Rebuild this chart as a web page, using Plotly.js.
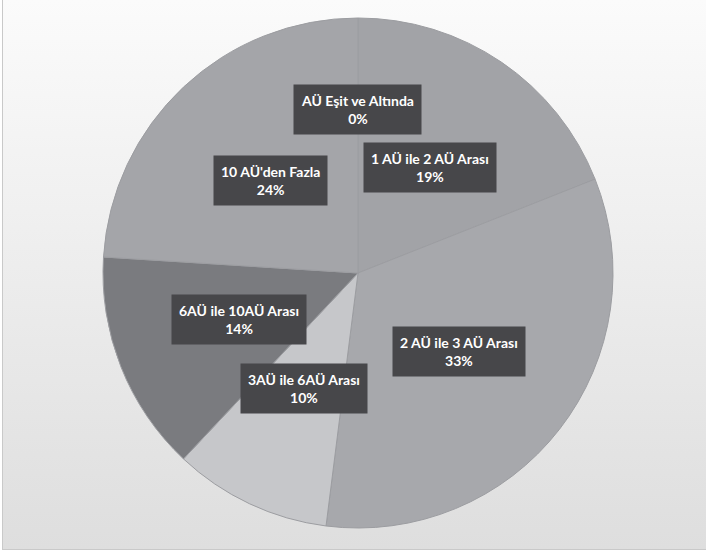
<!DOCTYPE html>
<html>
<head>
<meta charset="utf-8">
<script src="https://cdn.plot.ly/plotly-3.0.1.min.js"></script>
<style>
  html, body { margin: 0; padding: 0; background: #ffffff; }
  #bg {
    position: absolute; left: 2px; top: 0; width: 704px; height: 549px;
    border-left: 1px solid #c9c9c9; border-bottom: 1px solid #c9c9c9;
    background: linear-gradient(to bottom, #fbfbfb 0%, #eeeeee 45%, #dedede 100%);
  }
  #chart { position: absolute; left: 0; top: 0; width: 706px; height: 555px; }
</style>
</head>
<body>
<div id="bg"></div>
<div id="chart"></div>
<script>
// Data
const categories = [
  "AÜ Eşit ve Altında",
  "1 AÜ ile 2 AÜ Arası",
  "2 AÜ ile 3 AÜ Arası",
  "3AÜ ile 6AÜ Arası",
  "6AÜ ile 10AÜ Arası",
  "10 AÜ'den Fazla"
];
const percents = [0, 19, 33, 10, 14, 24];

// Styles
const sliceColors = ["#a2a3a7", "#a2a3a7", "#a7a8ac", "#c6c7ca", "#7a7b7f", "#a4a5a9"];
const labelRadius = [0.64, 0.5, 0.5, 0.5, 0.5, 0.5];

const W = 706, H = 555;
const cx = 358, cy = 273, R = 255;
const domX = [(cx - R) / W, (cx + R) / W];
const domY = [(H - cy - R) / H, (H - cy + R) / H];

const trace = {
  type: "pie",
  labels: categories,
  values: percents,
  sort: false,
  direction: "clockwise",
  rotation: 0,
  textinfo: "none",
  hoverinfo: "label+percent",
  marker: { colors: sliceColors, line: { color: "#9c9da1", width: 1 } },
  domain: { x: domX, y: domY },
  showlegend: false
};

// Label annotations placed at each slice's mid-angle
const total = percents.reduce((a, b) => a + b, 0);
let cum = 0;
const annotations = categories.map((c, i) => {
  const mid = (cum + percents[i] / 2) / total * 2 * Math.PI;
  cum += percents[i];
  const r = R * labelRadius[i];
  const px = cx + r * Math.sin(mid);
  const py = cy - r * Math.cos(mid);
  return {
    xref: "paper", yref: "paper",
    x: px / W, y: 1 - py / H,
    xanchor: "center", yanchor: "middle",
    showarrow: false,
    text: "<b>" + c + "</b><br><b>" + percents[i] + "%</b>",
    font: { family: "Lato, 'Open Sans', sans-serif", size: 14, color: "#ffffff" },
    bgcolor: "#47474a",
    borderpad: 7,
    align: "center"
  };
});

const layout = {
  width: W, height: H,
  margin: { l: 0, r: 0, t: 0, b: 0 },
  paper_bgcolor: "rgba(0,0,0,0)",
  plot_bgcolor: "rgba(0,0,0,0)",
  annotations: annotations
};

Plotly.newPlot("chart", [trace], layout, { displayModeBar: false, staticPlot: true });
</script>
</body>
</html>
